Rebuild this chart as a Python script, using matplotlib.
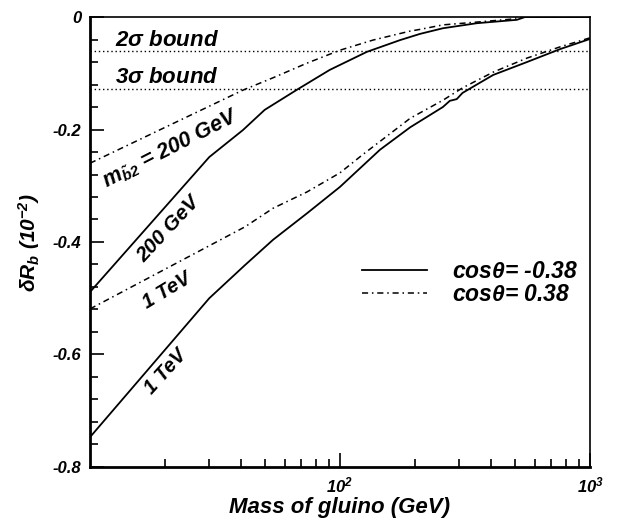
import matplotlib
matplotlib.use("Agg")
import matplotlib.pyplot as plt
from matplotlib.ticker import FixedLocator, NullFormatter, LogLocator

plt.rcParams["font.family"] = ["Liberation Sans", "DejaVu Sans"]
plt.rcParams["font.weight"] = "bold"
plt.rcParams["font.style"] = "italic"
plt.rcParams["axes.labelweight"] = "bold"
plt.rcParams["mathtext.fontset"] = "custom"
plt.rcParams["mathtext.rm"] = "Liberation Sans"
plt.rcParams["mathtext.it"] = "Liberation Sans:italic:bold"
plt.rcParams["mathtext.bf"] = "Liberation Sans:bold"

# gluino mass (GeV) vs delta R_b (10^-2)
# m_b2 = 200 GeV, cos(theta) = -0.38
x_200_neg = [10, 30, 40.9, 50, 68, 91, 128, 174, 209, 258, 353, 510, 550, 1000]
y_200_neg = [-0.489, -0.249, -0.201, -0.165, -0.128, -0.094, -0.062, -0.041,
             -0.030, -0.020, -0.011, -0.005, 0.0, 0.0]
# m_b2 = 200 GeV, cos(theta) = 0.38
x_200_pos = [10, 40.9, 54, 73.8, 100, 135.6, 191, 209, 258, 353, 479, 525, 1000]
y_200_pos = [-0.26, -0.130, -0.108, -0.082, -0.059, -0.041, -0.025, -0.022,
             -0.014, -0.009, -0.004, 0.0, 0.0]
# m_b2 = 1 TeV, cos(theta) = -0.38
x_1t_neg = [10, 30, 41.7, 54, 73.8, 100, 144.5, 191, 258, 275, 293, 309, 410, 560, 760, 1000]
y_1t_neg = [-0.747, -0.50, -0.441, -0.396, -0.349, -0.302, -0.236, -0.196, -0.160,
            -0.149, -0.146, -0.135, -0.103, -0.080, -0.057, -0.039]
# m_b2 = 1 TeV, cos(theta) = 0.38
x_1t_pos = [10, 41.7, 54, 73.8, 100, 123, 191, 258, 309, 410, 560, 760, 1000]
y_1t_pos = [-0.519, -0.373, -0.340, -0.311, -0.277, -0.245, -0.180, -0.148,
            -0.126, -0.098, -0.073, -0.053, -0.037]

bound_2sigma = -0.060
bound_3sigma = -0.128

yticks = [-0.8, -0.6, -0.4, -0.2, 0.0]
ytick_labels = ["-0.8", "-0.6", "-0.4", "-0.2", "0"]

fig = plt.figure(figsize=(6.18, 5.25), dpi=100)
ax = fig.add_axes([0.1456, 0.1105, 0.8091, 0.8571])

dashdot = (0, (4, 2.5, 1, 2.5))
ax.plot(x_200_neg, y_200_neg, color="black", lw=1.3, label=r"cos$\mathrm{\theta}$= -0.38")
ax.plot(x_200_pos, y_200_pos, color="black", lw=1.1, linestyle=dashdot,
        label=r"cos$\mathrm{\theta}$= 0.38")
ax.plot(x_1t_neg, y_1t_neg, color="black", lw=1.3)
ax.plot(x_1t_pos, y_1t_pos, color="black", lw=1.1, linestyle=dashdot)

ax.axhline(bound_2sigma, color="black", lw=1.0, linestyle=(0, (1, 2)))
ax.axhline(bound_3sigma, color="black", lw=1.0, linestyle=(0, (1, 2)))

ax.text(12.6, -0.041, r"2$\mathrm{\sigma}$ bound", fontsize=16, va="center", ha="left")
ax.text(12.6, -0.107, r"3$\mathrm{\sigma}$ bound", fontsize=16, va="center", ha="left")

ax.text(21.0, -0.234, r"$m_{\tilde{b}\mathit{2}}$ = 200 GeV", fontsize=15.5, rotation=27,
        ha="center", va="center", rotation_mode="anchor")
ax.text(20.6, -0.377, "200 GeV", fontsize=15, rotation=47,
        ha="center", va="center", rotation_mode="anchor")
ax.text(20.3, -0.487, "1 TeV", fontsize=14.5, rotation=31,
        ha="center", va="center", rotation_mode="anchor")
ax.text(20.1, -0.630, "1 TeV", fontsize=14.5, rotation=48,
        ha="center", va="center", rotation_mode="anchor")

ax.set_xscale("log")
ax.set_xlim(10, 1000)
ax.set_ylim(-0.8, 0.0)

ax.xaxis.set_major_locator(FixedLocator([100, 1000]))
ax.set_xticklabels([r"$\mathit{10^{2}}$", r"$\mathit{10^{3}}$"], fontsize=12)
ax.xaxis.set_minor_locator(LogLocator(base=10, subs=range(2, 10)))
ax.xaxis.set_minor_formatter(NullFormatter())

ax.set_yticks(yticks)
ax.set_yticklabels(ytick_labels, fontsize=12)
ax.yaxis.set_minor_locator(FixedLocator([-0.04 * i for i in range(1, 20)]))

ax.tick_params(which="both", direction="in", top=False, right=False, width=1.2)
ax.tick_params(which="major", length=10, pad=6)
ax.tick_params(which="minor", length=6)

for side in ["left", "bottom"]:
    ax.spines[side].set_linewidth(2.0)
for side in ["top", "right"]:
    ax.spines[side].set_linewidth(1.2)

ax.set_xlabel("Mass of gluino (GeV)", fontsize=16, fontweight="bold", labelpad=1)
ax.set_ylabel(r"$\mathrm{\delta}R_b$ (10$^{\mathit{-2}}$)", fontsize=15,
              fontweight="bold", labelpad=8)

ax.legend(loc="center left", bbox_to_anchor=(0.545, 0.408), frameon=False, fontsize=16.5,
          handlelength=2.8, handletextpad=1.1, borderpad=0, borderaxespad=0,
          labelspacing=0.0)

fig.savefig("out.png", dpi=100)
